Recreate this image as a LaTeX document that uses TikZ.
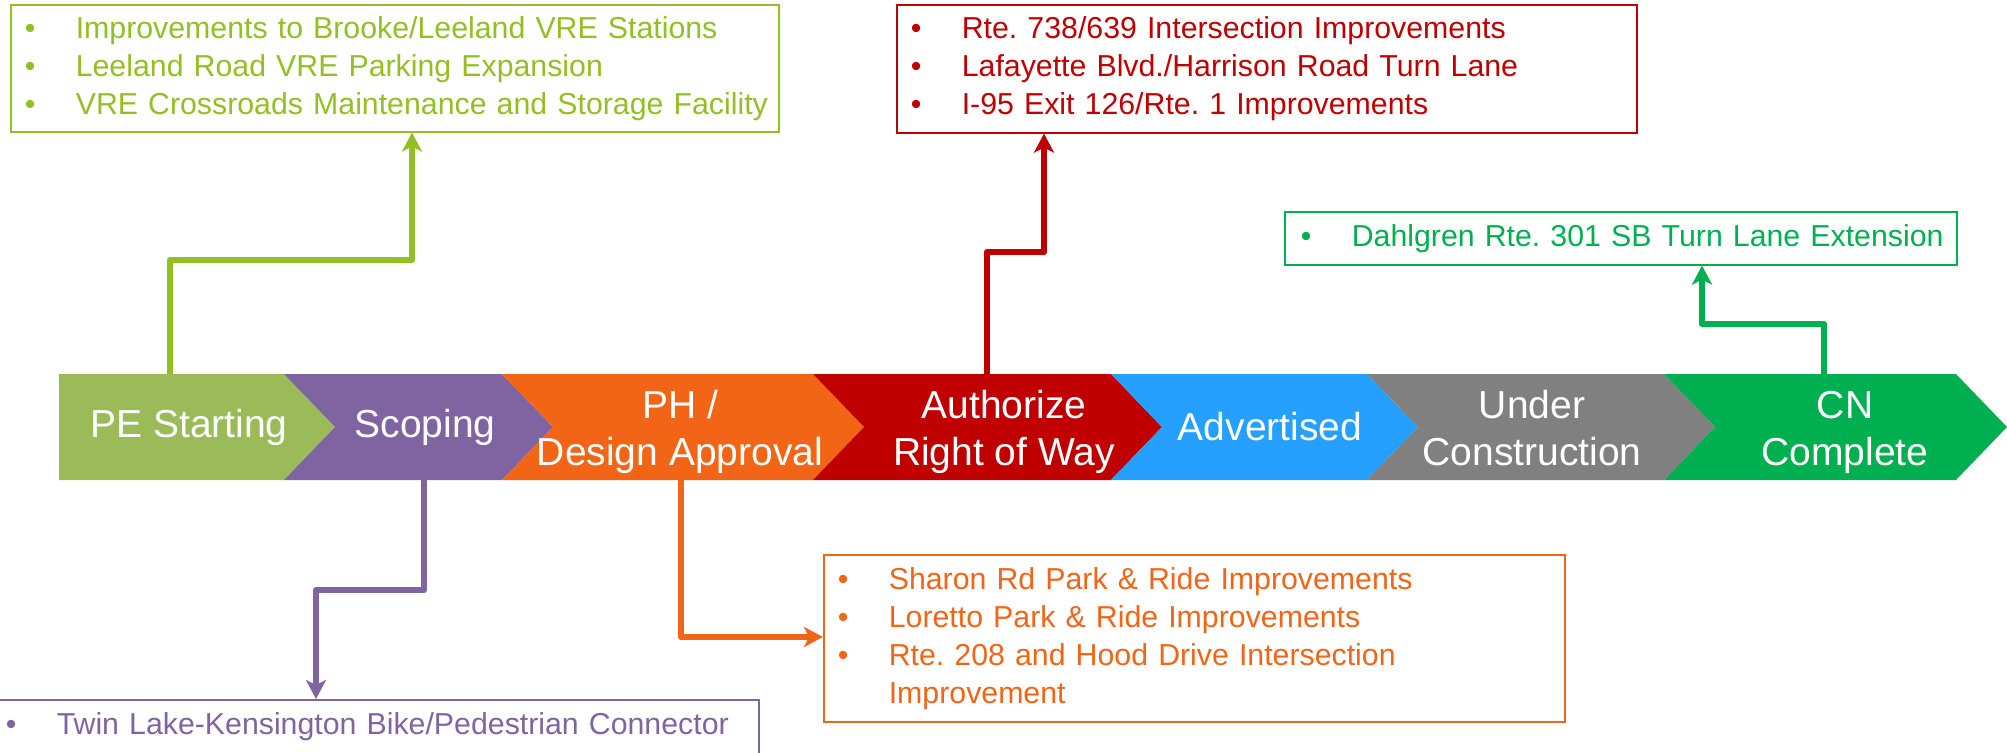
\documentclass[tikz,border=0pt]{standalone}
\usepackage{fontspec}
\setmainfont{Liberation Sans}
\usetikzlibrary{arrows.meta}
\definecolor{gr1}{RGB}{155,187,89}
\definecolor{gr1t}{RGB}{146,192,36}
\definecolor{pu}{RGB}{128,100,162}
\definecolor{og}{RGB}{243,101,22}
\definecolor{rd}{RGB}{192,0,0}
\definecolor{bl}{RGB}{38,160,255}
\definecolor{gy}{RGB}{128,128,128}
\definecolor{gr2}{RGB}{0,176,80}
\tikzset{
  stlab/.style = {text=white,align=center,font=\fontsize{39}{47}\selectfont},
  prj/.style = {draw,line width=1.6pt,anchor=north west,inner xsep=14pt,align=left,font=\fontsize{30.3}{38}\selectfont},
  conn/.style = {line width=6.5pt,line join=round,-{Stealth[length=19pt,width=20pt,inset=5pt]}}
}
\newlength{\bgap}
\setlength{\bgap}{51pt}
\newcommand{\itm}[2][\bgap]{\mbox{\makebox[#1][l]{\textbullet}#2}}
\frenchspacing

\begin{document}
\begin{tikzpicture}[x=1pt,y=-1pt]
\useasboundingbox (0,0) rectangle (2007,752);

% stages
\fill[gr1] (59,374) -- (284,374) -- ++(51,53) -- (284,480) -- (59,480) -- cycle;
\foreach \xa/\xb/\col in {284/502/pu,502/813/og,813/1111/rd,1111/1367/bl,1367/1664/gy,1664/1956/gr2}
  \fill[\col] (\xa,374) -- (\xb,374) -- ++(51,53) -- (\xb,480) -- (\xa,480) -- ++(51,-53) -- cycle;

\node[stlab] (pe) at (189,427) {PE Starting};
\node[stlab] (sc) at (425,427) {Scoping};
\node[stlab] (ph) at (680,432) {PH /\\Design Approval};
\node[stlab] (row) at (1004,432) {Authorize\\Right of Way};
\node[stlab] (adv) at (1270,427) {Advertised};
\node[stlab] (uc) at (1532,428) {Under\\Construction};
\node[stlab] (cn) at (1845,432) {CN\\Complete};

\coordinate (pe-o) at (170,374);
\coordinate (sc-o) at (424,480);
\coordinate (ph-o) at (681,480);
\coordinate (row-o) at (987,374);
\coordinate (cn-o) at (1824,374);

% project boxes
\node[prj,gr1t,minimum width=768pt,minimum height=127pt,text width=740pt] (pebox) at (10,4)
  {\itm{Improvements to Brooke/Leeland VRE Stations}\\
   \itm{Leeland Road VRE Parking Expansion}\\
   \itm{VRE Crossroads Maintenance and Storage Facility}};
\node[prj,rd,minimum width=740pt,minimum height=128pt,text width=712pt] (rowbox) at (896,4)
  {\itm{Rte. 738/639 Intersection Improvements}\\
   \itm{Lafayette Blvd./Harrison Road Turn Lane}\\
   \itm{I-95 Exit 126/Rte. 1 Improvements}};
\node[prj,gr2,minimum width=672pt,minimum height=53pt,text width=640pt] (cnbox) at (1284,211)
  {\itm{Dahlgren Rte. 301 SB Turn Lane Extension}};
\node[prj,pu,minimum width=767pt,minimum height=54pt,text width=739pt] (scbox) at (-9,699)
  {\itm{Twin Lake-Kensington Bike/Pedestrian Connector}};
\node[prj,og,minimum width=741pt,minimum height=167pt,text width=713pt] (phbox) at (823,554)
  {\itm{Sharon Rd Park \& Ride Improvements}\\
   \itm{Loretto Park \& Ride Improvements}\\
   \itm{Rte. 208 and Hood Drive Intersection}\\
   \hspace*{\bgap}Improvement};

% connectors
\draw[conn,gr1t] (pe-o) -- ++(0,-114) -| (412,0 |- pebox.south);
\draw[conn,rd] (row-o) -- ++(0,-122) -| (1044,0 |- rowbox.south);
\draw[conn,gr2] (cn-o) -- ++(0,-50) -| (1702,0 |- cnbox.south);
\draw[conn,pu] (sc-o) -- ++(0,110) -| (316,0 |- scbox.north);
\draw[conn,og] (ph-o) |- (phbox.west |- 0,637);
\end{tikzpicture}
\end{document}
